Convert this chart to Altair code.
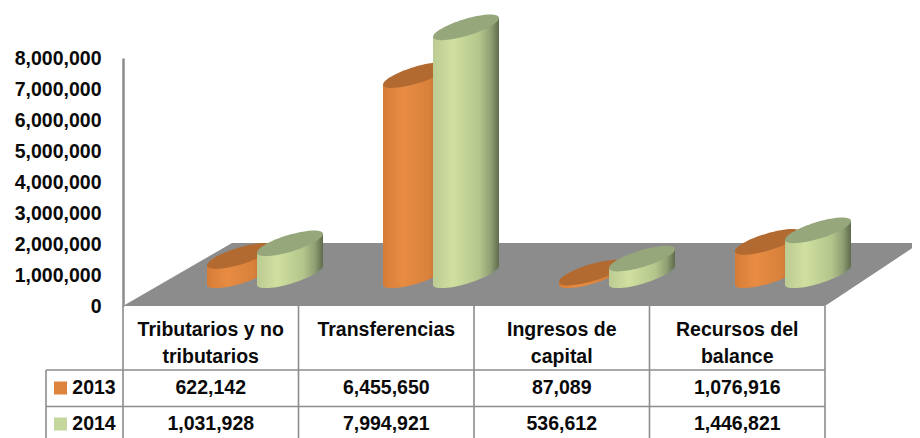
import altair as alt
import pandas as pd

categories = [["Tributarios y no", "tributarios"], ["Transferencias"], ["Ingresos de", "capital"], ["Recursos del", "balance"]]
years = ["2013", "2014"]
values_2013 = [622142, 6455650, 87089, 1076916]
values_2014 = [1031928, 7994921, 536612, 1446821]

FONT = "Liberation Sans"
FS = 19.5
GREY = "#8c8c8c"
INK = "#0a0a0a"
PX_X = 175.5           # pixels per category column
PX_M = 31 / 1e6        # pixels per unit of value
W, H = 789, 248
x_scale = alt.Scale(domain=[0, W / PX_X], nice=False, zero=False)
val_scale = alt.Scale(domain=[0, 8000000], nice=False, zero=False)
base_off = 21 / PX_M
cyl_scale = alt.Scale(domain=[-base_off, 8000000 - base_off], nice=False, zero=False)
row_scale = alt.Scale(domain=[-24 / 27, -272 / 27], nice=False, zero=False)

cyl_w = 66 / PX_X
tilt = 19.5 / PX_M
first = {"2013": 84 / PX_X, "2014": 134 / PX_X}
a, b, rot, ex, ey = 1.042, 0.253, -17, 0.998, 0.30
ELLIPSE = f"M{-ex},{ey} A{a},{b} {rot} 1 1 {ex},{-ey} A{a},{b} {rot} 1 1 {-ex},{ey} Z"


def grad(stops):
    return {"gradient": "linear", "x1": 0, "x2": 1, "y1": 0, "y2": 0,
            "stops": [{"offset": o, "color": c} for o, c in stops]}


floor = pd.DataFrame({"depth": [0, 63 / PX_M], "x": [0, 109 / PX_X], "x2": [4, 797 / PX_X]})
floor_layer = alt.Chart(floor).mark_area(orient="horizontal", color=GREY).encode(
    y=alt.Y("depth:Q", scale=val_scale, axis=alt.Axis(
        values=list(range(0, 8000001, 1000000)), format=",d", title=None, grid=False, ticks=False,
        domainColor=GREY, domainWidth=2.5, labelFont=FONT, labelFontSize=FS, labelFontWeight="bold",
        labelColor=INK, labelPadding=22)),
    x=alt.X("x:Q", scale=x_scale, axis=None),
    x2="x2:Q",
)


def cylinder(year, values, body_stops, top_color):
    gradient = grad(body_stops)
    side, cap = [], []
    for i, v in enumerate(values):
        left = i * 176 / PX_X + first[year]
        side.append({"c": i, "x": left, "lo": 0, "hi": v})
        side.append({"c": i, "x": left + cyl_w, "lo": tilt, "hi": v + tilt})
        cap.append({"x": left + cyl_w / 2, "lo": tilt / 2, "hi": v + tilt / 2})
    side, cap = pd.DataFrame(side), pd.DataFrame(cap)
    X = alt.X("x:Q", scale=x_scale, axis=None)
    base_el = alt.Chart(cap).mark_point(shape=ELLIPSE, size=66 ** 2, filled=True, opacity=1,
                                        fill=gradient, strokeWidth=0).encode(
        x=X, y=alt.Y("lo:Q", scale=cyl_scale, axis=None))
    body = alt.Chart(side).mark_area(fill=gradient, interpolate="linear").encode(
        x=X, y=alt.Y("hi:Q", scale=cyl_scale, axis=None), y2="lo:Q", detail="c:N")
    top_el = alt.Chart(cap).mark_point(shape=ELLIPSE, size=66 ** 2, filled=True, opacity=1,
                                       fill=top_color, strokeWidth=0).encode(
        x=X, y=alt.Y("hi:Q", scale=cyl_scale, axis=None))
    return [base_el, body, top_el]


orange = cylinder("2013", values_2013,
                  [(0, "#d67c38"), (0.3, "#e88c42"), (0.7, "#d8813b"), (1, "#ae682f")], "#b26a30")
green = cylinder("2014", values_2014,
                 [(0, "#bccb92"), (0.3, "#cfe0a0"), (0.7, "#b5c68c"), (0.88, "#8f9e72"), (1, "#5f6b4c")], "#95a77b")

# Table
rules = []
for i in range(5):
    rules.append({"x": i, "x2": i, "r": -24 / 27, "r2": 4})
for r in [40 / 27, 76.5 / 27]:
    rules.append({"x": -77 / PX_X, "x2": 4, "r": r, "r2": r})
rules.append({"x": -77 / PX_X, "x2": -77 / PX_X, "r": 40 / 27, "r2": 4})
rules = pd.DataFrame(rules)
rule_layer = alt.Chart(rules).mark_rule(color=GREY, strokeWidth=1.6).encode(
    x=alt.X("x:Q", scale=x_scale, axis=None), x2="x2:Q",
    y=alt.Y("r:Q", scale=row_scale, axis=None), y2="r2:Q")

texts = []
for i, lines in enumerate(categories):
    for j, line in enumerate(lines):
        texts.append({"x": i + 0.5, "r": j, "t": line})
for k, vals in enumerate([values_2013, values_2014]):
    row = (58 + 36 * k) / 27
    texts.append({"x": -29 / PX_X, "r": row, "t": years[k]})
    for i, v in enumerate(vals):
        texts.append({"x": i + 0.5, "r": row, "t": f"{v:,}"})
text_layer = alt.Chart(pd.DataFrame(texts)).mark_text(
    font=FONT, fontSize=FS, fontWeight="bold", color=INK, align="center", baseline="middle").encode(
    x=alt.X("x:Q", scale=x_scale, axis=None),
    y=alt.Y("r:Q", scale=row_scale, axis=None),
    text="t:N")

swatches = pd.DataFrame({"x": [-62.5 / PX_X] * 2, "r": [58 / 27, 94 / 27], "year": years})
swatch_layer = alt.Chart(swatches).mark_square(size=169, opacity=1).encode(
    x=alt.X("x:Q", scale=x_scale, axis=None),
    y=alt.Y("r:Q", scale=row_scale, axis=None),
    color=alt.Color("year:N", scale=alt.Scale(domain=years, range=["#dd843c", "#c3d69b"]), legend=None))

chart = alt.layer(floor_layer, rule_layer, *orange, *green, text_layer, swatch_layer).resolve_scale(
    y="independent"
).properties(
    width=W, height=H,
    autosize=alt.AutoSizeParams(type="none"),
    padding={"left": 115, "top": 50, "right": 0, "bottom": 132},
    background="white",
).configure_view(stroke=None)

chart.save("out.html", embed_options={"renderer": "svg", "actions": False})
